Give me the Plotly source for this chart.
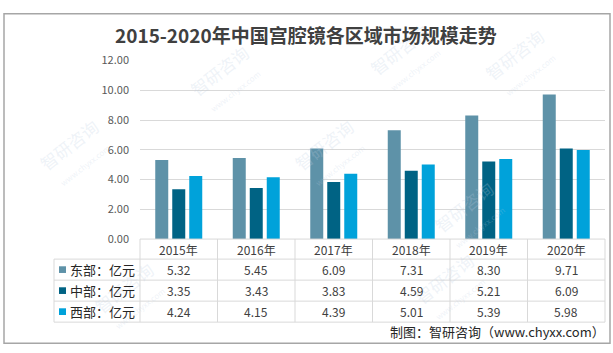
import plotly.graph_objects as go

W, H = 613, 353

years = ["2015年", "2016年", "2017年", "2018年", "2019年", "2020年"]
series_names = ["东部：亿元", "中部：亿元", "西部：亿元"]
east = [5.32, 5.45, 6.09, 7.31, 8.30, 9.71]
mid = [3.35, 3.43, 3.83, 4.59, 5.21, 6.09]
west = [4.24, 4.15, 4.39, 5.01, 5.39, 5.98]
colors = ["#5E92A8", "#006384", "#00A2DA"]
title = "2015-2020年中国宫腔镜各区域市场规模走势"
source = "制图：智研咨询（www.chyxx.com）"

FONT = "Noto Sans CJK SC, Microsoft YaHei, sans-serif"


def px(x):
    return x / W


def py(y):
    return 1 - y / H


# layout in pixels
PL, PR, PT, PB = 140, 605, 54, 241
TL = 54
row_edges = [241, 262, 284, 306, 328]

fig = go.Figure()
for name, vals, c in zip(series_names, [east, mid, west], colors):
    fig.add_trace(go.Bar(x=years, y=vals, name=name, marker_color=c,
                         marker_line_width=0, hoverinfo="skip"))

shapes = []
annotations = []

# outer border
shapes.append(dict(type="rect", xref="paper", yref="paper",
                   x0=px(4), x1=px(610), y0=py(350), y1=py(5),
                   line=dict(color="#A6A6A6", width=1.5)))

grid_c = "#D9D9D9"
ncol = len(years)
cw = (PR - PL) / ncol
# table horizontal lines
shapes.append(dict(type="line", xref="paper", yref="paper", x0=px(PL), x1=px(PR),
                   y0=py(row_edges[0]), y1=py(row_edges[0]), line=dict(color=grid_c, width=1)))
for yy in row_edges[1:]:
    shapes.append(dict(type="line", xref="paper", yref="paper", x0=px(TL), x1=px(PR),
                       y0=py(yy), y1=py(yy), line=dict(color=grid_c, width=1)))
# vertical lines
shapes.append(dict(type="line", xref="paper", yref="paper", x0=px(TL), x1=px(TL),
                   y0=py(row_edges[1]), y1=py(row_edges[-1]), line=dict(color=grid_c, width=1)))
for i in range(ncol + 1):
    xx = PL + i * cw
    shapes.append(dict(type="line", xref="paper", yref="paper", x0=px(xx), x1=px(xx),
                       y0=py(row_edges[0]), y1=py(row_edges[-1]), line=dict(color=grid_c, width=1)))

# faint watermarks (drawn first, underneath other text)
wm = [(225, 72), (405, 50), (520, 55), (75, 150), (470, 215), (450, 290), (130, 300), (330, 150)]
for (wx, wy) in wm:
    annotations.append(dict(xref="paper", yref="paper", x=px(wx), y=py(wy),
                            text="智研咨询<br><span style='font-size:8px'>www.chyxx.com</span>",
                            showarrow=False, textangle=-38,
                            font=dict(family=FONT, size=17, color="rgba(190,205,225,0.25)"),
                            xanchor="center", yanchor="middle"))

# header
for i, yr in enumerate(years):
    annotations.append(dict(xref="paper", yref="paper", x=px(PL + (i + 0.5) * cw),
                            y=py((row_edges[0] + row_edges[1]) / 2), text=yr, showarrow=False,
                            font=dict(family=FONT, size=12, color="#404040"),
                            xanchor="center", yanchor="middle"))
# rows
for r, (name, vals, c) in enumerate(zip(series_names, [east, mid, west], colors)):
    yc = (row_edges[r + 1] + row_edges[r + 2]) / 2
    shapes.append(dict(type="rect", xref="paper", yref="paper", x0=px(59), x1=px(66),
                       y0=py(yc + 3.5), y1=py(yc - 3.5), fillcolor=c, line=dict(width=0)))
    annotations.append(dict(xref="paper", yref="paper", x=px(68), y=py(yc), text=name,
                            showarrow=False, font=dict(family=FONT, size=13, color="#262626"),
                            xanchor="left", yanchor="middle"))
    for i, v in enumerate(vals):
        annotations.append(dict(xref="paper", yref="paper", x=px(PL + (i + 0.5) * cw), y=py(yc),
                                text=f"{v:.2f}", showarrow=False,
                                font=dict(family=FONT, size=12, color="#404040"),
                                xanchor="center", yanchor="middle"))

# title and source
annotations.append(dict(xref="paper", yref="paper", x=px(306), y=py(27), text=f"<b>{title}</b>",
                        showarrow=False, font=dict(family=FONT, size=19, color="#404040"),
                        xanchor="center", yanchor="middle"))
annotations.append(dict(xref="paper", yref="paper", x=px(607), y=py(338), text=source,
                        showarrow=False, font=dict(family=FONT, size=13, color="#262626"),
                        xanchor="right", yanchor="middle"))

fig.update_layout(
    width=W, height=H, margin=dict(l=0, r=0, t=0, b=0),
    paper_bgcolor="white", plot_bgcolor="white",
    barmode="group", bargap=0.342, bargroupgap=0.235,
    showlegend=False,
    xaxis=dict(domain=[px(PL), px(PR)], showticklabels=False, showgrid=False,
               zeroline=False, showline=False, ticks=""),
    yaxis=dict(domain=[py(PB), py(PT)], range=[0, 12], dtick=2, tickformat=".2f",
               showgrid=True, gridcolor=grid_c, gridwidth=1, zeroline=False, showline=False,
               ticks="", ticklabelstandoff=10,
               tickfont=dict(family=FONT, size=11, color="#595959")),
    shapes=shapes, annotations=annotations,
)

fig.write_html("out.html")
